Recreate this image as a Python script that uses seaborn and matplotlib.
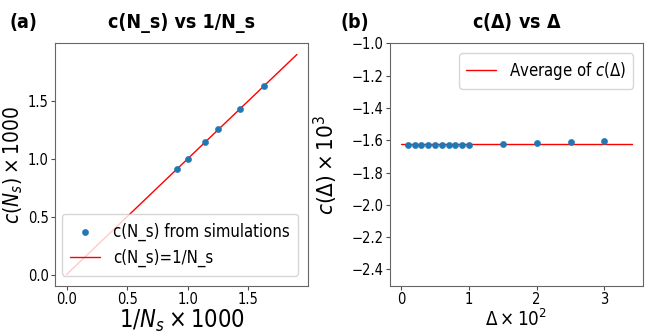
import numpy as np
import pandas as pd
import matplotlib
matplotlib.use("Agg")
import matplotlib.pyplot as plt
import seaborn as sns

# Panel (a) data
inv_ns = [0.91, 1.00, 1.14, 1.25, 1.43, 1.63]
c_ns = [0.91, 1.00, 1.14, 1.26, 1.43, 1.63]
line_a_x = [0.0, 1.9]

# Panel (b) data
delta = [0.1, 0.2, 0.3, 0.4, 0.5, 0.6, 0.7, 0.8, 0.9, 1.0, 1.5, 2.0, 2.5, 3.0]
c_delta = [-1.630, -1.630, -1.630, -1.629, -1.629, -1.629, -1.628, -1.627,
           -1.627, -1.627, -1.622, -1.618, -1.613, -1.607]
line_b_x = [0.0, 3.4]

sns.set_style("ticks", {"axes.edgecolor": "0.4", "xtick.color": "0.3",
                        "ytick.color": "0.3", "text.color": "black",
                        "axes.labelcolor": "black"})
plt.rcParams['font.family'] = ['DejaVu Sans']
plt.rcParams['font.stretch'] = 'condensed'
plt.rcParams['mathtext.fontset'] = 'custom'
plt.rcParams['mathtext.rm'] = 'DejaVu Sans:stretch=condensed'
plt.rcParams['mathtext.it'] = 'DejaVu Sans:style=oblique:stretch=condensed'
plt.rcParams['mathtext.bf'] = 'DejaVu Sans:weight=bold:stretch=condensed'
plt.rcParams['mathtext.sf'] = 'DejaVu Sans:stretch=condensed'
plt.rcParams['axes.linewidth'] = 0.8

fig, (ax1, ax2) = plt.subplots(1, 2, figsize=(6.47, 3.34), dpi=100)
fig.subplots_adjust(left=0.085, right=0.994, top=0.87, bottom=0.145, wspace=0.32)

dfa = pd.DataFrame({"x": inv_ns, "y": c_ns})
sns.scatterplot(data=dfa, x="x", y="y", ax=ax1, s=20, color="#1f77b4",
                edgecolor="#1f77b4", label="c(N_s) from simulations", zorder=3)
dfl = pd.DataFrame({"x": line_a_x, "y": line_a_x})
sns.lineplot(data=dfl, x="x", y="y", ax=ax1, color="red", lw=1,
             label="c(N_s)=1/N_s")
ax1.set_xlabel(r"$1/N_s \times 1000$", fontsize=17, labelpad=1)
ax1.set_ylabel(r"$c(N_s) \times 1000$", fontsize=15)
ax1.yaxis.set_label_coords(-0.118, 0.5)
ax1.set_title("c(N_s) vs 1/N_s", fontsize=14, fontweight="bold", pad=11)
ax1.set_xticks([0.0, 0.5, 1.0, 1.5])
ax1.set_yticks([0.0, 0.5, 1.0, 1.5])
ax1.legend(loc="lower right", fontsize=12, framealpha=0.8,
           handlelength=1.8, borderaxespad=0.6, borderpad=0.5)

avg = float(np.mean(c_delta))
dfb = pd.DataFrame({"x": delta, "y": c_delta})
sns.scatterplot(data=dfb, x="x", y="y", ax=ax2, s=20, color="#1f77b4",
                edgecolor="#1f77b4", zorder=3)
dflb = pd.DataFrame({"x": line_b_x, "y": [avg, avg]})
sns.lineplot(data=dflb, x="x", y="y", ax=ax2, color="red", lw=1,
             label=r"Average of $c(\Delta)$")
ax2.set_ylim(-2.5, -1.0)
ax2.set_xticks([0, 1, 2, 3])
ax2.set_xlabel(r"$\Delta \times 10^2$", fontsize=13.5, labelpad=1)
ax2.set_ylabel(r"$c(\Delta) \times 10^3$", fontsize=16)
ax2.yaxis.set_label_coords(-0.195, 0.5)
ax2.set_title(r"c($\mathbf{\Delta}$) vs $\mathbf{\Delta}$", fontsize=14,
              fontweight="bold", pad=11)
ax2.legend(loc="upper right", fontsize=12, handlelength=1.8,
           borderaxespad=0.6)

for ax in (ax1, ax2):
    ax.tick_params(labelsize=10.5, length=3, width=0.8, pad=1.5,
                   labelcolor="black")

fig.text(0.015, 0.915, "(a)", fontsize=14, fontweight="bold")
fig.text(0.527, 0.915, "(b)", fontsize=14, fontweight="bold")

fig.savefig("out.png", dpi=100)
